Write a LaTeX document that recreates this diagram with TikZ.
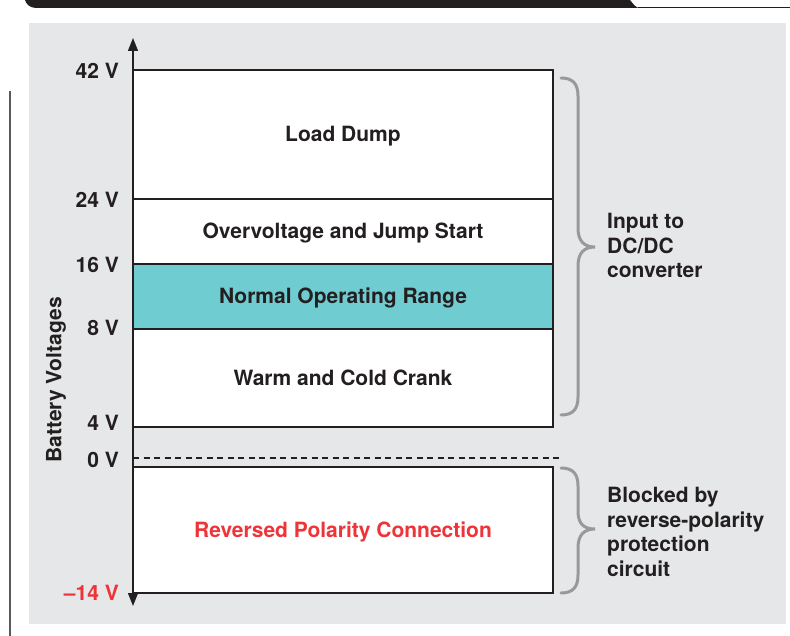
\documentclass[tikz,border=0pt]{standalone}
\usepackage{fontspec}
\setmainfont{TeX Gyre Heros}
\usetikzlibrary{arrows.meta}
\definecolor{inkdark}{HTML}{231F20}
\definecolor{panelgray}{HTML}{E6E7E8}
\definecolor{bandteal}{HTML}{6FCCD0}
\definecolor{alertred}{HTML}{EE3439}
\definecolor{bracegray}{HTML}{999999}
\tikzset{
  lbl/.style={font=\fontsize{21}{24.5}\selectfont\bfseries, text=inkdark, inner sep=0pt},
  vlabel/.style={lbl, anchor=east, text height=15pt, text depth=0pt},
  band/.style={draw=inkdark, line width=1.4pt, fill=white, minimum width=420pt, inner sep=0pt, lbl,
    text height=15pt, text depth=0pt},
  bracket/.style={draw=bracegray, line width=3pt, line cap=round},
  note/.style={lbl, anchor=north west, align=left}
}
\begin{document}
\begin{tikzpicture}[x=1pt,y=-1pt]
\useasboundingbox (0,0) rectangle (790,636);
% header strip
\fill[inkdark] (25,0) -- (630,0) .. controls (634,5) and (636,8) .. (640,8) -- (36,8)
  .. controls (30,8) and (26,4) .. (25,0) -- cycle;
\draw[inkdark, line width=1.2pt] (638,7.5) -- (790,7.5);
% page margin rule
\draw[gray!70!black, line width=1.3pt] (10,91) -- (10,636);
% panel
\fill[panelgray] (29,23) rectangle (786,624);

% voltage bands
\node[band, minimum height=129pt] (load) at (343,134.5) {Load Dump};
\node[band, minimum height=65pt] (over) at (343,231.5) {Overvoltage and Jump Start};
\node[band, minimum height=65pt, fill=bandteal] (norm) at (343,296.5) {Normal Operating Range};
\node[band, minimum height=98pt] (crank) at (343,378) {Warm and Cold Crank};
\node[band, minimum height=126pt, text=alertred] (rev) at (343,530) {Reversed Polarity Connection};

% zero line
\coordinate (z0) at (133,458);
\coordinate (z1) at (563,458);
\draw[inkdark, line width=1.3pt, dash pattern=on 6pt off 4.5pt] (z0) -- (z1);

% axis
\coordinate (atop) at (133,38);
\coordinate (abot) at (133,606);
\draw[inkdark, line width=1.4pt, {Triangle[length=13pt,width=10pt]}-{Triangle[length=13pt,width=10pt]}] (abot) -- (atop);

% tick labels
\node[vlabel] (v42) at (119,71) {42 V};
\node[vlabel] (v24) at (119,200) {24 V};
\node[vlabel] (v16) at (119,265) {16 V};
\node[vlabel] (v8) at (119,328) {8 V};
\node[vlabel] (v4) at (119,423) {4 V};
\node[vlabel] (v0) at (119,460) {0 V};
\node[vlabel, text=alertred] (vm14) at (119,593) {–14 V};

\node[lbl, rotate=90] (axis) at (56,380) {Battery Voltages};

% braces
\draw[bracket] (561,78) .. controls (573,78) and (578,84) .. (578,96) -- (578,228)
  .. controls (578,241) and (584,247) .. (595,247)
  .. controls (584,247) and (578,253) .. (578,266) -- (578,397)
  .. controls (578,409) and (573,415) .. (561,415);
\draw[bracket] (561,468) .. controls (573,468) and (578,474) .. (578,486) -- (578,511)
  .. controls (578,524) and (584,529) .. (595,529)
  .. controls (584,529) and (578,535) .. (578,548) -- (578,575)
  .. controls (578,587) and (573,593) .. (561,593);

\node[note] (inp) at (607,213) {Input to\\DC/DC\\converter};
\node[note] (blk) at (607,487) {Blocked by\\reverse-polarity\\protection\\circuit};
\end{tikzpicture}
\end{document}
